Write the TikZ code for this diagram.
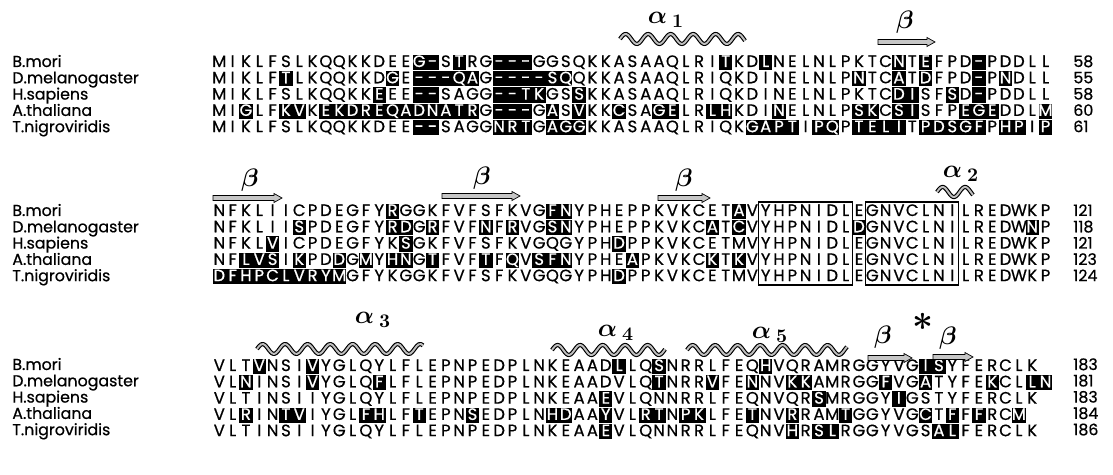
\documentclass[tikz,border=0pt]{standalone}
\usepackage{fontspec}
\setmainfont{Poppins}
\newfontfamily\seqfam{Poppins}[FakeBold=0.6]
\usetikzlibrary{arrows.meta, positioning}

% one residue column
\newlength\resw
\setlength\resw{7.585pt}
\newcommand\seqfont{\seqfam\fontsize{9.4}{10}\selectfont}
\newcommand\namefont{\seqfam\fontsize{9}{10}\selectfont}

% residues: plain, or white on black between [ and ]
\newif\ifshade
\newcommand\res[1]{\makebox[\resw]{#1}}
\newcommand\shres[1]{\rlap{\rule[-1.7pt]{\resw}{8.7pt}}\makebox[\resw]{\color{white}#1}}
\def\seqrun#1{\shadefalse\seqstep#1\relax}
\def\seqstep#1{%
  \ifx#1\relax\else
    \ifx#1[\shadetrue\else
      \ifx#1]\shadefalse\else
        \ifshade\shres{#1}\else\res{#1}\fi
      \fi
    \fi
    \expandafter\seqstep
  \fi}

% secondary structure marks
\newcommand\helix[3]{%
  \draw[helixout] plot[domain=#1:#2, samples=80, smooth] (\x,{#3-5*sin(16*(\x-#1))});
  \draw[helixin] plot[domain=#1:#2, samples=80, smooth] (\x,{#3-5*sin(16*(\x-#1))});}
\newcommand\strand[3]{%
  \draw[strandbox] (#1,#3-2.5) -- (#2-8,#3-2.5) -- (#2-8,#3-4.5) -- (#2,#3)
    -- (#2-8,#3+4.5) -- (#2-8,#3+2.5) -- (#1,#3+2.5) -- cycle;}

\begin{document}
\begin{tikzpicture}[x=0.02cm, y=-0.02cm,
  seq/.style={anchor=base west, inner sep=0pt, font=\seqfont},
  spname/.style={anchor=base west, inner sep=0pt, font=\namefont},
  resnum/.style={anchor=base west, inner sep=0pt, font=\namefont},
  alab/.style={inner sep=0pt, font=\fontsize{15}{15}\selectfont\boldmath},
  blab/.style={inner sep=0pt, font=\fontsize{15}{15}\selectfont\boldmath},
  starlab/.style={inner sep=0pt, font=\fontsize{20}{20}\selectfont\boldmath},
  motif/.style={draw, line width=0.6pt},
  helixout/.style={line width=2.4pt, line join=round},
  helixin/.style={line width=1.1pt, gray!50},
  strandbox/.style={draw, line width=0.4pt, fill=gray!45}]

  \useasboundingbox (0,0) rectangle (1113,475);

  % species names and residue numbers
  \foreach \b/\y in {1/62,2/211,3/365}
    \foreach \sp [count=\i] in {B.mori,D.melanogaster,H.sapiens,A.thaliana,T.nigroviridis}
      \node[spname] (sp\b\i) at (12,\y+16.3*\i-11.3) {\sp};
  \foreach \n [count=\i] in {58,55,58,60,61}
    \node[resnum] (num1\i) at (1073,62+16.3*\i-11.3) {\n};
  \foreach \n [count=\i] in {121,118,121,123,124}
    \node[resnum] (num2\i) at (1073,211+16.3*\i-11.3) {\n};
  \foreach \n [count=\i] in {183,181,183,184,186}
    \node[resnum] (num3\i) at (1073,365+16.3*\i-11.3) {\n};

  % block 1
  \node[seq] (mori1) at (212.3,67) {\seqrun{MIKLFSLKQQKKDEE[G-]S[T]RG[---]GGSQKKASAAQLRI[T]KD[L]NELNLPKTC[N]T[E]FPD[-]PDDLL}};
  \node[seq] (mel1) at (212.3,83.3) {\seqrun{MIKLF[T]LKQQKKD[G]E[---QA]G[----SQ]QKKASAAQLRIQKDINELNLP[N]TC[A]T[D]FPD[-]P[N]DLL}};
  \node[seq] (sap1) at (212.3,99.6) {\seqrun{MIKLFSLKQQKK[E]EE[--]SAGG[--TK]GS[S]KKASAAQLRIQKDINELNLPKTC[DI]SF[S]D[-]PDDLL}};
  \node[seq] (tha1) at (212.3,115.9) {\seqrun{MI[G]LF[KV]K[EKDREQADNAT][R]G[---]G[A]S[V]KK[C]SA[GE]LR[LH]KDI[N]ELNLP[SK]C[SI]SFP[EGE]DDL[M]}};
  \node[seq] (nig1) at (212.3,132.2) {\seqrun{MIKLFSLKQQKKDEE[--]SAGG[NRT]G[AGG]KKASAAQLRIQK[GAPT]I[PQ]P[TELI]T[PDSGF]P[HP]I[P]}};

  % block 2
  \node[seq] (mori2) at (212.3,216) {\seqrun{NFKLIICPDEGFY[R]GGKFVFSFKVG[FN]YPHEPPKVKCET[A]VYHPNIDLEGNVCLNILREDWKP}};
  \node[seq] (mel2) at (212.3,232.3) {\seqrun{NFKLII[S]PDEGFY[RD]G[R]FVF[N]F[R]VG[SN]YPHEPPKVKC[A]T[C]VYHPNIDL[D]GNVCLNILREDW[N]P}};
  \node[seq] (sap2) at (212.3,248.6) {\seqrun{NFKL[V]ICPDEGFYK[S]GKFVFSFKVGQGYPH[D]PPKVKCETMVYHPNIDLEGNVCLNILREDWKP}};
  \node[seq] (tha2) at (212.3,264.9) {\seqrun{NF[LVS]I[K]PD[D]G[M]Y[HN]G[T]FVF[T]F[Q]V[SFN]YPHE[A]PKVKC[K]T[K]VYHPNIDLEGNVCLNILREDWKP}};
  \node[seq] (nig2) at (212.3,281.2) {\seqrun{[DFHPCLVRYM]GFYKGGKFVFSFKVGQGYPH[D]PPKVKCETMVYHPNIDLEGNVCLNILREDWKP}};

  % block 3
  \node[seq] (mori3) at (212.3,371) {\seqrun{VLT[V]NSI[V]YGLQYLFLEPNPEDPLNKEAAD[L]LQ[S]NRRLFEQ[H]VQRAMRGGYVG[IS]YFERCLK}};
  \node[seq] (mel3) at (212.3,387.3) {\seqrun{VL[N]INSI[V]YGLQ[F]LFLEPNPEDPLNKEAADVLQ[T]NRR[V]FE[N]NV[KK]AMRGG[F]VG[A]TYFE[K]CL[LN]}};
  \node[seq] (sap3) at (212.3,403.6) {\seqrun{VLTINSIIYGLQYLFLEPNPEDPLNKEAA[E]VLQNNRRLFEQNVQR[S]MRGGY[I]GSTYFERCLK}};
  \node[seq] (tha3) at (212.3,419.9) {\seqrun{VL[R]IN[TV]IYGL[FH]LF[T]EPN[S]EDPLN[HD]AA[Y]VL[RT]N[PK]LFE[T]NV[R]RAM[T]GGYVG[C]T[F]F[F]RC[M]}};
  \node[seq] (nig3) at (212.3,436.2) {\seqrun{VLTINSIIYGLQYLFLEPNPEDPLNKEAA[E]VLQNNRRLFEQNV[H]R[SL]RGGYVGS[AL]FERCLK}};

  % conserved motifs
  \draw[motif] (758.8,202) rectangle (852.1,285);
  \draw[motif] (865.5,202) rectangle (958.8,285);

  % secondary structure, block 1
  \helix{620}{745}{39}
  \node[alab] (alpha1) at (666,20) {$\alpha\,{}_{1}$};
  \strand{878}{935}{42}
  \node[blab] (beta1) at (905,22) {$\beta$};

  % block 2
  \strand{213}{282}{198}
  \node[blab] (beta2) at (250,180) {$\beta$};
  \strand{442}{520}{196}
  \node[blab] (beta3) at (482,178) {$\beta$};
  \strand{658}{710}{198}
  \node[blab] (beta4) at (684,180) {$\beta$};
  \helix{937}{973}{192}
  \node[alab] (alpha2) at (961,174) {$\alpha\,{}_{2}$};

  % block 3
  \helix{257}{423}{349}
  \node[alab] (alpha3) at (373,320) {$\alpha\,{}_{3}$};
  \helix{552}{665}{350}
  \node[alab] (alpha4) at (616,333) {$\alpha\,{}_{4}$};
  \helix{687}{847}{350}
  \node[alab] (alpha5) at (770,335) {$\alpha\,{}_{5}$};
  \strand{868}{912}{358}
  \node[blab] (beta5) at (883,337) {$\beta$};
  \node[starlab] (star) at (923,322) {$\ast$};
  \strand{933}{973}{357}
  \node[blab] (beta6) at (948,338) {$\beta$};
\end{tikzpicture}
\end{document}
